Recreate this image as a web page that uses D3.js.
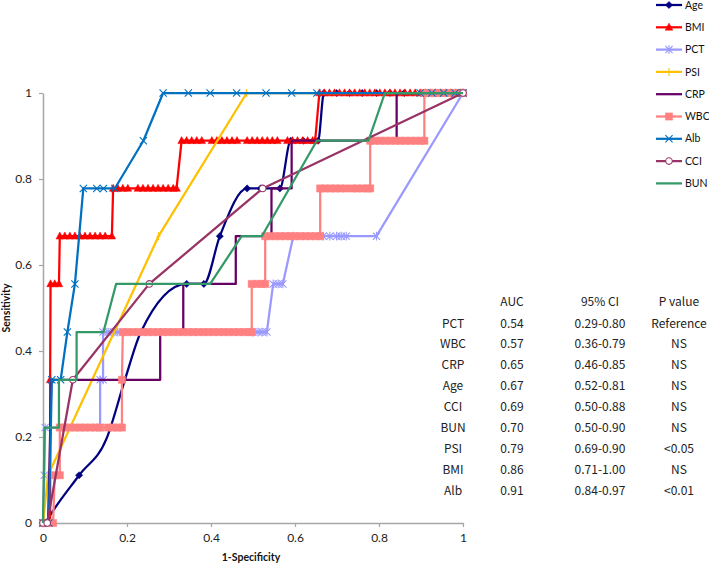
<!DOCTYPE html>
<html><head><meta charset="utf-8">
<script src="https://cdn.jsdelivr.net/npm/d3@7"></script>
<style>
html,body{margin:0;padding:0;background:#fff;}
svg{display:block;}
</style></head>
<body>
<svg id="chart" width="709" height="563"></svg>
<script>
// ---------- DATA (ROC points: [1-specificity, sensitivity]) ----------
const seriesNames = ["Age","BMI","PCT","PSI","CRP","WBC","Alb","CCI","BUN"];

const age = [[0.005,0],[0.086,0.111],[0.342,0.556],[0.383,0.556],[0.421,0.667],[0.486,0.778],[0.518,0.778],[0.564,0.778],[0.59,0.889],[0.62,0.889],[0.655,0.889],[0.669,1],[0.699,1],[0.73,1],[0.76,1],[0.794,1],[0.826,1],[0.86,1],[0.9,1],[0.95,1],[1,1]];
const ageCurveBends = [[0.025,0.03],[0.152,0.198],[0.195,0.333],[0.233,0.444]];

const bmi = [[0,0],[0.017,0],[0.017,0.333],[0.018,0.556],[0.028,0.556],[0.038,0.556],[0.04,0.667],[0.052,0.667],[0.064,0.667],[0.076,0.667],[0.088,0.667],[0.1,0.667],[0.112,0.667],[0.124,0.667],[0.136,0.667],[0.148,0.667],[0.164,0.667],
  [0.167,0.778],[0.178,0.778],[0.19,0.778],[0.202,0.778],[0.226,0.778],[0.238,0.778],[0.25,0.778],[0.262,0.778],[0.274,0.778],[0.286,0.778],[0.298,0.778],[0.31,0.778],[0.318,0.778],
  [0.33,0.889],[0.342,0.889],[0.354,0.889],[0.366,0.889],[0.378,0.889],[0.402,0.889],[0.414,0.889],[0.426,0.889],[0.438,0.889],[0.45,0.889],[0.462,0.889],[0.486,0.889],[0.498,0.889],[0.51,0.889],[0.522,0.889],[0.534,0.889],[0.546,0.889],[0.558,0.889],[0.582,0.889],[0.594,0.889],[0.606,0.889],[0.618,0.889],[0.63,0.889],[0.642,0.889],[0.648,0.889],
  [0.658,1],[0.67,1],[0.682,1],[0.694,1],[0.706,1],[0.718,1],[0.73,1],[0.742,1],[0.754,1],[0.766,1],[0.778,1],[0.79,1],[0.802,1],[0.814,1],[0.826,1],[0.838,1],[0.85,1],[0.862,1],[0.874,1],[0.886,1],[0.898,1],[0.91,1],[0.922,1],[0.934,1],[0.946,1],[0.958,1],[0.97,1],[0.982,1],[0.994,1],[1,1]];

const pct = [[0,0],[0.003,0.111],[0.005,0.222],[0.136,0.222],[0.136,0.333],[0.143,0.333],[0.143,0.444],[0.155,0.444],[0.167,0.444],[0.178,0.444],[0.5,0.444],[0.512,0.444],[0.522,0.444],[0.533,0.444],[0.548,0.556],[0.56,0.556],[0.571,0.556],[0.596,0.667],[0.667,0.667],[0.683,0.667],[0.699,0.667],[0.71,0.667],[0.722,0.667],[0.794,0.667],[1,1]];

const psi = [[0,0],[0.012,0.111],[0.275,0.667],[0.485,1],[1,1]];

const crp = [[0,0],[0.012,0],[0.02,0.333],[0.279,0.333],[0.279,0.444],[0.334,0.444],[0.334,0.556],[0.459,0.556],[0.459,0.667],[0.544,0.667],[0.544,0.778],[0.592,0.778],[0.592,0.889],[0.842,0.889],[0.842,1],[1,1]];

const wbc = [[0,0],[0.012,0],[0.024,0],[0.028,0.111],[0.04,0.111],[0.04,0.222],[0.052,0.222],[0.064,0.222],[0.076,0.222],[0.088,0.222],[0.1,0.222],[0.112,0.222],[0.124,0.222],[0.136,0.222],[0.155,0.222],[0.167,0.222],[0.178,0.222],[0.188,0.222],
  [0.188,0.333],[0.19,0.444],[0.202,0.444],[0.214,0.444],[0.226,0.444],[0.238,0.444],[0.25,0.444],[0.262,0.444],[0.274,0.444],[0.286,0.444],[0.298,0.444],[0.31,0.444],[0.322,0.444],[0.334,0.444],[0.346,0.444],[0.358,0.444],[0.37,0.444],[0.382,0.444],[0.394,0.444],[0.406,0.444],[0.418,0.444],[0.43,0.444],[0.442,0.444],[0.454,0.444],[0.466,0.444],[0.478,0.444],[0.49,0.444],[0.497,0.444],
  [0.497,0.556],[0.509,0.556],[0.521,0.556],[0.529,0.556],[0.529,0.667],[0.541,0.667],[0.553,0.667],[0.565,0.667],[0.577,0.667],[0.589,0.667],[0.601,0.667],[0.613,0.667],[0.625,0.667],[0.637,0.667],[0.649,0.667],[0.66,0.667],
  [0.66,0.778],[0.672,0.778],[0.684,0.778],[0.696,0.778],[0.708,0.778],[0.72,0.778],[0.736,0.778],[0.748,0.778],[0.76,0.778],[0.772,0.778],[0.779,0.778],
  [0.779,0.889],[0.791,0.889],[0.803,0.889],[0.815,0.889],[0.827,0.889],[0.839,0.889],[0.851,0.889],[0.863,0.889],[0.875,0.889],[0.887,0.889],[0.899,0.889],[0.908,0.889],
  [0.908,1],[0.92,1],[0.932,1],[0.944,1],[0.956,1],[0.968,1],[0.98,1],[0.992,1],[1,1]];

const alb = [[0,0],[0.014,0],[0.021,0.333],[0.042,0.333],[0.058,0.444],[0.076,0.556],[0.096,0.778],[0.128,0.778],[0.144,0.778],[0.171,0.778],[0.239,0.889],[0.286,1],[0.346,1],[0.398,1],[0.461,1],[0.531,1],[0.592,1],[0.652,1],[0.898,1],[0.926,1],[0.954,1],[0.981,1],[1,1]];

const cci = [[0,0],[0.01,0],[0.071,0.333],[0.253,0.556],[0.523,0.778],[1,1]];

const bun = [[0,0],[0.002,0.111],[0.004,0.222],[0.038,0.222],[0.038,0.333],[0.08,0.333],[0.08,0.444],[0.144,0.444],[0.174,0.556],[0.398,0.556],[0.473,0.667],[0.521,0.667],[0.652,0.889],[0.775,0.889],[0.814,1],[1,1]];

const tickValues = [0,0.2,0.4,0.6,0.8,1];
const tickLabels = ["0","0.2","0.4","0.6","0.8","1"];

const tableHeader = ["", "AUC", "95% CI", "P value"];
const tableRows = ["PCT","WBC","CRP","Age","CCI","BUN","PSI","BMI","Alb"];
const tableAUC = ["0.54","0.57","0.65","0.67","0.69","0.70","0.79","0.86","0.91"];
const tableCI = ["0.29-0.80","0.36-0.79","0.46-0.85","0.52-0.81","0.50-0.88","0.50-0.90","0.69-0.90","0.71-1.00","0.84-0.97"];
const tableP = ["Reference","NS","NS","NS","NS","NS","<0.05","NS","<0.01"];

// ---------- STYLE ----------
const colors = {Age:"#000080",BMI:"#FF0000",PCT:"#9999FF",PSI:"#FFC000",CRP:"#660066",WBC:"#FF8080",Alb:"#0070C0",CCI:"#993366",BUN:"#339966"};
const seriesData = {Age:age,BMI:bmi,PCT:pct,PSI:psi,CRP:crp,WBC:wbc,Alb:alb,CCI:cci,BUN:bun};

const svg = d3.select("#chart");
const x = d3.scaleLinear().domain([0,1]).range([43,463]);
const y = d3.scaleLinear().domain([0,1]).range([523,93]);

// custom marker shapes (radius r)
function markerPath(name, r){
  const p = d3.path();
  switch(name){
    case "Age": p.moveTo(0,-r); p.lineTo(r,0); p.lineTo(0,r); p.lineTo(-r,0); p.closePath(); break;
    case "BMI": p.moveTo(0,-r*1.1); p.lineTo(r,r*0.75); p.lineTo(-r,r*0.75); p.closePath(); break;
    case "WBC": p.rect(-r,-r,2*r,2*r); break;
    case "Alb": p.moveTo(-r,-r); p.lineTo(r,r); p.moveTo(-r,r); p.lineTo(r,-r); break;
    case "PCT": p.moveTo(-r,-r); p.lineTo(r,r); p.moveTo(-r,r); p.lineTo(r,-r); p.moveTo(0,-r*1.2); p.lineTo(0,r*1.2); break;
    case "PSI": p.moveTo(0,-r); p.lineTo(0,r); p.moveTo(-r*0.5,0); p.lineTo(r*0.5,0); break;
    case "CCI": p.arc(0,0,r,0,2*Math.PI); break;
    default: return null;
  }
  return p.toString();
}
const markerSize = {Age:3.6,BMI:3.8,WBC:3.6,Alb:3.6,PCT:3.6,PSI:4,CCI:3.3};
const filled = {Age:true,BMI:true,WBC:true};

// axes
const axisColor = "#A6A6A6";
const fontTick = "Lato, 'DejaVu Sans', sans-serif";

const gx = svg.append("g").attr("transform","translate(0,523)")
  .call(d3.axisBottom(x).tickValues(tickValues).tickFormat((d,i)=>tickLabels[i]).tickSize(4).tickSizeOuter(0).tickPadding(6));
const gy = svg.append("g").attr("transform","translate(43,0)")
  .call(d3.axisLeft(y).tickValues(tickValues).tickFormat((d,i)=>tickLabels[i]).tickSize(4).tickSizeOuter(0).tickPadding(7));
[gx,gy].forEach(g=>{
  g.select(".domain").attr("stroke",axisColor).attr("stroke-width",1.5);
  g.selectAll(".tick line").attr("stroke",axisColor).attr("stroke-width",1.2);
  g.selectAll(".tick text").attr("fill","#222").style("font-family",fontTick).style("font-size","12px");
});

// axis titles
svg.append("text").attr("x",251).attr("y",561).attr("text-anchor","middle")
  .style("font-family",fontTick).style("font-size","10.5px").style("font-weight","bold").attr("fill","#111").text("1-Specificity");
svg.append("text").attr("transform","translate(10,308) rotate(-90)").attr("text-anchor","middle")
  .style("font-family",fontTick).style("font-size","10.5px").style("font-weight","bold").attr("fill","#111").text("Sensitivity");

// series
const line = d3.line().x(d=>x(d[0])).y(d=>y(d[1]));
const ageLine = d3.line().x(d=>x(d[0])).y(d=>y(d[1])).curve(d3.curveMonotoneX);
const plot = svg.append("g");
seriesNames.forEach(name=>{
  const data = seriesData[name];
  const g = plot.append("g");
  if(name==="Age"){
    const merged = age.concat(ageCurveBends).sort((a,b)=>a[0]-b[0]);
    g.append("path").attr("d",ageLine(merged)).attr("fill","none").attr("stroke",colors[name]).attr("stroke-width",2.25).attr("stroke-linejoin","round");
  } else {
    g.append("path").attr("d",line(data)).attr("fill","none").attr("stroke",colors[name]).attr("stroke-width",2.25).attr("stroke-linejoin","round");
  }
  const mp = markerPath(name, markerSize[name]||3);
  if(mp){
    g.selectAll("path.m").data(data).enter().append("path").attr("class","m")
      .attr("transform",d=>`translate(${x(d[0])},${y(d[1])})`)
      .attr("d",mp)
      .attr("fill", filled[name]?colors[name]:(name==="CCI"?"#fff":"none"))
      .attr("stroke",colors[name]).attr("stroke-width", filled[name]?0.5:1.1);
  }
});

// legend
const legend = svg.append("g");
seriesNames.forEach((name,i)=>{
  const yy = 5 + i*22.3;
  const g = legend.append("g").attr("transform",`translate(0,${yy})`);
  g.append("line").attr("x1",656).attr("x2",682).attr("y1",0).attr("y2",0).attr("stroke",colors[name]).attr("stroke-width",2.25);
  const mp = markerPath(name, markerSize[name]||3);
  if(mp){
    g.append("path").attr("transform","translate(669,0)").attr("d",mp)
      .attr("fill", filled[name]?colors[name]:(name==="CCI"?"#fff":"none"))
      .attr("stroke",colors[name]).attr("stroke-width", filled[name]?0.5:1.1);
  }
  g.append("text").attr("x",685).attr("y",0).attr("dy","0.35em")
    .style("font-family",fontTick).style("font-size","10.5px").attr("fill","#111").text(name);
});

// table
const tableFont = "'Noto Sans CJK JP', 'Noto Sans', sans-serif";
const colX = [453,512,600,679];
const table = svg.append("g").style("font-family",tableFont).style("font-size","12px").attr("fill","#222");
tableHeader.forEach((h,j)=>{
  table.append("text").attr("x",colX[j]).attr("y",302).attr("dy","0.35em").attr("text-anchor","middle").text(h);
});
tableRows.forEach((r,i)=>{
  const yy = 323.3 + i*20.9;
  [r, tableAUC[i], tableCI[i], tableP[i]].forEach((t,j)=>{
    table.append("text").attr("x",colX[j]).attr("y",yy).attr("dy","0.35em").attr("text-anchor","middle").text(t);
  });
});
</script>
</body></html>
